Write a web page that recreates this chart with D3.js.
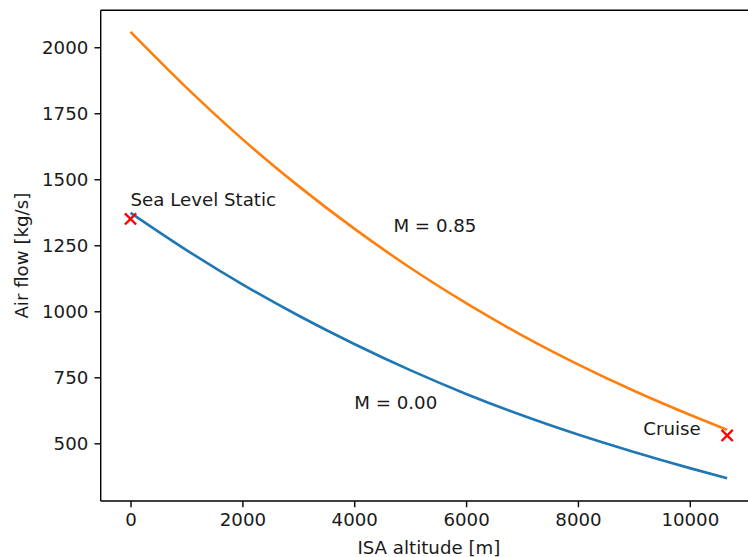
<!DOCTYPE html>
<html>
<head>
<meta charset="utf-8">
<script src="https://cdn.jsdelivr.net/npm/d3@7"></script>
<style>
  html, body { margin: 0; padding: 0; background: #fff; }
  svg { display: block; font-family: "DejaVu Sans", sans-serif; }
</style>
</head>
<body>
<svg id="chart" width="748" height="557"></svg>
<script>
// ISA altitude [m]
const altitude = [0, 1000, 2000, 3000, 4000, 5000, 6000, 7000, 8000, 9000, 10000, 10668];
// Engine air flow [kg/s] at flight Mach 0.00 and 0.85
const flowM000 = [1373, 1232, 1102, 984, 876, 777, 687, 606, 533, 467, 406, 368];
const flowM085 = [2058, 1847, 1652, 1475, 1313, 1165, 1031, 909, 799, 699, 608, 551];

// Operating points
const pointNames = ["Sea Level Static", "Cruise"];
const pointAlt = [0, 10668];
const pointFlow = [1350, 530];

// Curve labels
const curveLabels = ["M = 0.00", "M = 0.85"];
const curveLabelAlt = [4000, 4700];
const curveLabelFlow = [630, 1300];

const xTicks = [0, 2000, 4000, 6000, 8000, 10000];
const yTicks = [500, 750, 1000, 1250, 1500, 1750, 2000];

const svg = d3.select("#chart");
const plotLeft = 100.7, plotRight = 757, plotTop = 10.3, plotBottom = 501;
const fontSize = 18.2;

const x = d3.scaleLinear().domain([-533.4, 11201.4]).range([plotLeft, plotRight]);
const y = d3.scaleLinear().domain([281.5, 2140]).range([plotBottom, plotTop]);

// Axes
const xAxis = svg.append("g")
  .attr("transform", `translate(0,${plotBottom})`)
  .call(d3.axisBottom(x).tickValues(xTicks).tickFormat(d3.format("d")).tickSize(6.2).tickPadding(6.2));
const yAxis = svg.append("g")
  .attr("transform", `translate(${plotLeft},0)`)
  .call(d3.axisLeft(y).tickValues(yTicks).tickFormat(d3.format("d")).tickSize(6.2).tickPadding(6.2));

[xAxis, yAxis].forEach(g => {
  g.select(".domain").remove();
  g.selectAll(".tick line").attr("stroke", "#000").attr("stroke-width", 1.4);
  g.selectAll(".tick text").attr("font-size", fontSize).attr("fill", "#1a1a1a")
    .attr("font-family", "DejaVu Sans, sans-serif");
});

// Spines
const spines = svg.append("g").attr("stroke", "#000").attr("stroke-width", 1.4).attr("fill", "none");
spines.append("line").attr("x1", plotLeft).attr("x2", plotLeft).attr("y1", plotTop).attr("y2", plotBottom);
spines.append("line").attr("x1", plotLeft).attr("x2", plotRight).attr("y1", plotBottom).attr("y2", plotBottom);
spines.append("line").attr("x1", plotLeft).attr("x2", plotRight).attr("y1", plotTop).attr("y2", plotTop);
spines.append("line").attr("x1", plotRight).attr("x2", plotRight).attr("y1", plotTop).attr("y2", plotBottom);

// Curves
const line = d3.line().x(d => x(d[0])).y(d => y(d[1])).curve(d3.curveMonotoneX);
const series = [
  { values: flowM000, color: "#1f77b4" },
  { values: flowM085, color: "#ff7f0e" }
];
series.forEach(s => {
  svg.append("path")
    .datum(altitude.map((a, i) => [a, s.values[i]]))
    .attr("d", line)
    .attr("fill", "none")
    .attr("stroke", s.color)
    .attr("stroke-width", 2.6);
});

// Operating point markers (red crosses)
const half = 5.6;
pointAlt.forEach((a, i) => {
  const cx = x(a), cy = y(pointFlow[i]);
  const g = svg.append("g").attr("stroke", "#ff0000").attr("stroke-width", 2.4);
  g.append("line").attr("x1", cx - half).attr("y1", cy - half).attr("x2", cx + half).attr("y2", cy + half);
  g.append("line").attr("x1", cx - half).attr("y1", cy + half).attr("x2", cx + half).attr("y2", cy - half);
});

// Operating point labels
svg.append("text")
  .attr("x", x(pointAlt[0])).attr("y", y(pointFlow[0] + 50))
  .attr("font-size", fontSize).attr("fill", "#1a1a1a")
  .text(pointNames[0]);
svg.append("text")
  .attr("x", x(pointAlt[1] - 1500)).attr("y", y(pointFlow[1]))
  .attr("font-size", fontSize).attr("fill", "#1a1a1a")
  .text(pointNames[1]);

// Curve labels
curveLabels.forEach((t, i) => {
  svg.append("text")
    .attr("x", x(curveLabelAlt[i])).attr("y", y(curveLabelFlow[i]))
    .attr("font-size", fontSize).attr("fill", "#1a1a1a")
    .text(t);
});

// Axis titles
svg.append("text")
  .attr("x", (plotLeft + plotRight) / 2).attr("y", 554)
  .attr("text-anchor", "middle").attr("font-size", fontSize).attr("fill", "#1a1a1a")
  .text("ISA altitude [m]");
svg.append("text")
  .attr("transform", `translate(28,${(plotTop + plotBottom) / 2}) rotate(-90)`)
  .attr("text-anchor", "middle").attr("font-size", fontSize).attr("fill", "#1a1a1a")
  .text("Air flow [kg/s]");
</script>
</body>
</html>
